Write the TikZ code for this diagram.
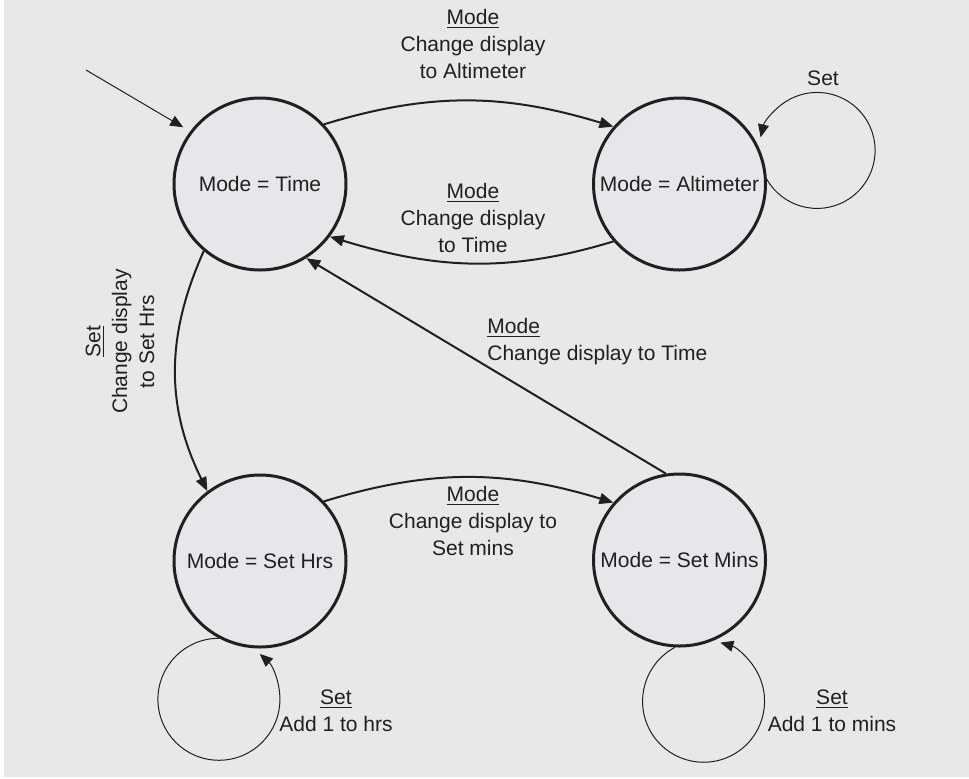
\documentclass[tikz,border=0pt]{standalone}
\usepackage{fontspec}
\setmainfont{Liberation Sans}
\usetikzlibrary{arrows.meta}
\definecolor{bgc}{RGB}{232,232,232}
\definecolor{statefill}{RGB}{230,231,234}
\definecolor{ink}{RGB}{35,31,32}
\tikzset{
  lbl/.style={font=\fontsize{10.5}{13.4}\selectfont, text=ink, inner sep=0pt, align=center},
  statenode/.style={circle, draw=ink, fill=statefill, line width=1.5pt, minimum size=86pt, inner sep=0pt,
    font=\fontsize{10.5}{13.4}\selectfont, text=ink},
  conn/.style={draw=ink, line width=1pt, -{Triangle[length=7pt,width=5.5pt]}},
  thinconn/.style={draw=ink, line width=0.5pt, -{Triangle[length=6.5pt,width=5.5pt]}},
}
\begin{document}
\begin{tikzpicture}[x=0.5pt,y=-0.5pt]
\useasboundingbox (0,0) rectangle (969,778);
\fill[white] (0,0) rectangle (969,778);
\fill[bgc] (4,0) rectangle (969,777);

% states
\node[statenode] (time) at (260,184) {Mode = Time};
\node[statenode] (alt) at (679.5,184) {Mode = Altimeter};
\node[statenode] (sethrs) at (260,561) {Mode = Set Hrs};
\node[statenode] (setmins) at (679.5,560) {Mode = Set Mins};

% initial arrow
\coordinate (init) at (86,70);
\draw[thinconn, shorten >=4pt] (init) -- (time.143);

% transitions
\draw[conn] (time.43) .. controls (431.6,91.5) and (505.3,93.8) .. (alt.139);
\draw[conn] (alt.221) .. controls (507.7,273.5) and (435.1,268.8) .. (time.-37);
\draw[conn] (setmins.99) -- (time.-58);
\draw[conn] (time.230) .. controls (165.4,336.5) and (165.9,407) .. (sethrs.127);
\draw[conn] (sethrs.43) .. controls (431.6,468.6) and (505.3,469.8) .. (setmins.139);

% self loops
\draw[thinconn] (alt.3) arc[start angle=150, end angle=-167, radius=58];
\draw[thinconn] (sethrs.-118) arc[start angle=270, end angle=-48, radius=61];
\draw[thinconn] (setmins.-93) arc[start angle=242, end angle=-74, radius=61];

% labels (base anchor = baseline of last line)
\node[lbl, anchor=base] (l1) at (473,78) {\underline{Mode}\\Change display\\to Altimeter};
\node[lbl, anchor=base] (l2) at (473,252) {\underline{Mode}\\Change display\\to Time};
\node[lbl, anchor=base west, align=left] (l3) at (487,360) {\underline{Mode}\\Change display to Time};
\node[lbl, anchor=base] (l4) at (473,555) {\underline{Mode}\\Change display to\\Set mins};
\node[lbl, rotate=90] (l5) at (120,341.5) {\underline{Set}\\Change display\\to Set Hrs};
\node[lbl, anchor=base] (l6) at (823,85) {Set};
\node[lbl, anchor=base] (l7) at (336,731) {\underline{Set}\\Add 1 to hrs};
\node[lbl, anchor=base] (l8) at (832,731) {\underline{Set}\\Add 1 to mins};
\end{tikzpicture}
\end{document}
